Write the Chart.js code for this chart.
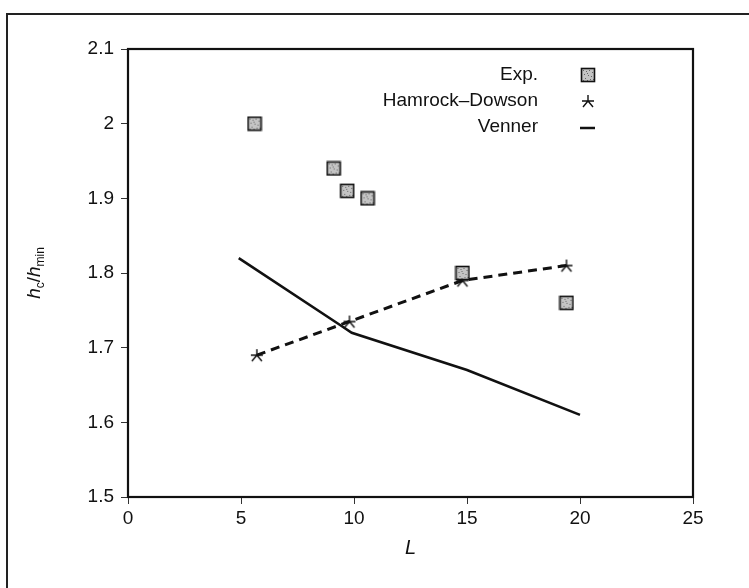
<!DOCTYPE html>
<html>
<head>
<meta charset="utf-8">
<script src="https://cdn.jsdelivr.net/npm/chart.js@4.4.0/dist/chart.umd.min.js"></script>
<style>
  html, body { margin: 0; padding: 0; background: #fff; }
  #wrap { width: 749px; height: 588px; position: relative; }
</style>
</head>
<body>
<div id="wrap"><canvas id="myChart"></canvas></div>
<script>
'use strict';

// data
var expL = [5.6, 9.1, 9.7, 10.6, 14.8, 19.4];
var expH = [2.0, 1.94, 1.91, 1.90, 1.80, 1.76];

var hdL = [5.7, 9.8, 14.8, 19.4];
var hdH = [1.69, 1.735, 1.79, 1.81];

var vennerL = [4.9, 9.4, 9.9, 15, 20];
var vennerH = [1.82, 1.73, 1.72, 1.67, 1.61];

var seriesNames = ['Exp.', 'Hamrock\u2013Dowson', 'Venner'];
var xTicks = [0, 5, 10, 15, 20, 25];
var yTicks = [1.5, 1.6, 1.7, 1.8, 1.9, 2.0, 2.1];

var fontFam = '"Liberation Sans", Arial, Helvetica, sans-serif';

function toPoints(xs, ys) {
    var pts = [];
    for (var i = 0; i < xs.length; i++) {
        pts.push({ x: xs[i], y: ys[i] });
    }
    return pts;
}

// the little square with a speckled grey fill
function makeSquare() {
    var c = document.createElement('canvas');
    c.width = 16; c.height = 16;
    var g = c.getContext('2d');
    g.fillStyle = '#c4c4c4';
    g.fillRect(1, 1, 14, 14);
    g.fillStyle = '#666';
    var dots = [[3,3],[6,4],[9,3],[12,5],[4,7],[8,8],[11,9],[5,11],[10,12],[7,13],[13,12],[3,13],[7,6]];
    for (var i = 0; i < dots.length; i++) g.fillRect(dots[i][0], dots[i][1], 1, 1);
    g.strokeStyle = '#111';
    g.lineWidth = 1.6;
    g.strokeRect(1.5, 1.5, 13, 13);
    return c;
}

// three armed star with a bar, like the one in the plot
function makeStar() {
    var c = document.createElement('canvas');
    c.width = 16; c.height = 16;
    var g = c.getContext('2d');
    g.strokeStyle = '#111';
    g.lineWidth = 1.4;
    g.beginPath();
    g.moveTo(8, 2); g.lineTo(8, 8);
    g.moveTo(8, 8); g.lineTo(3, 14);
    g.moveTo(8, 8); g.lineTo(13, 14);
    g.moveTo(2, 8); g.lineTo(14, 8);
    g.stroke();
    return c;
}

var squareImg = makeSquare();
var starImg = makeStar();

// frame, box around the plot, legend and y title
var extras = {
    id: 'extras',
    afterDraw: function (chart) {
        var ctx = chart.ctx;
        var a = chart.chartArea;
        ctx.save();
        // outer frame (only left and top are in view)
        ctx.strokeStyle = '#222';
        ctx.lineWidth = 2;
        ctx.beginPath();
        ctx.moveTo(7, 588);
        ctx.lineTo(7, 14);
        ctx.lineTo(749, 14);
        ctx.stroke();
        // box round the plot
        ctx.lineWidth = 2.2;
        ctx.strokeStyle = '#111';
        ctx.strokeRect(a.left, a.top, a.right - a.left, a.bottom - a.top);

        // legend
        ctx.fillStyle = '#111';
        ctx.font = '19px ' + fontFam;
        ctx.textAlign = 'right';
        ctx.textBaseline = 'middle';
        var lx = 538, ys = [75, 101, 127];
        for (var i = 0; i < seriesNames.length; i++) {
            ctx.fillText(seriesNames[i], lx, ys[i]);
        }
        ctx.drawImage(squareImg, 580, ys[0] - 8);
        ctx.drawImage(starImg, 580, ys[1] - 8);
        ctx.lineWidth = 2.5;
        ctx.beginPath();
        ctx.moveTo(580, ys[2] + 1);
        ctx.lineTo(595, ys[2] + 1);
        ctx.stroke();

        // y title h_c / h_min
        ctx.translate(34, (a.top + a.bottom) / 2);
        ctx.rotate(-Math.PI / 2);
        ctx.textAlign = 'left';
        ctx.textBaseline = 'alphabetic';
        var parts = [
            ['italic 19px ', 'h', 0],
            ['12px ', 'c', 4],
            ['19px ', '/', 0],
            ['italic 19px ', 'h', 0],
            ['12px ', 'min', 4]
        ];
        var w = 0;
        for (var j = 0; j < parts.length; j++) {
            ctx.font = parts[j][0] + fontFam;
            w += ctx.measureText(parts[j][1]).width;
        }
        var px = -w / 2;
        for (var k = 0; k < parts.length; k++) {
            ctx.font = parts[k][0] + fontFam;
            ctx.fillText(parts[k][1], px, 6 + parts[k][2]);
            px += ctx.measureText(parts[k][1]).width;
        }
        ctx.restore();
    }
};

var ctx = document.getElementById('myChart').getContext('2d');
var chart = new Chart(ctx, {
    type: 'scatter',
    data: {
        datasets: [
            {
                label: seriesNames[0],
                data: toPoints(expL, expH),
                pointStyle: squareImg,
                showLine: false
            },
            {
                label: seriesNames[1],
                data: toPoints(hdL, hdH),
                pointStyle: starImg,
                showLine: true,
                borderColor: '#111',
                borderWidth: 3,
                borderDash: [9, 6],
                fill: false
            },
            {
                label: seriesNames[2],
                data: toPoints(vennerL, vennerH),
                pointRadius: 0,
                showLine: true,
                borderColor: '#111',
                borderWidth: 2.6,
                fill: false
            }
        ]
    },
    options: {
        responsive: true,
        maintainAspectRatio: false,
        animation: false,
        layout: { padding: { top: 49, right: 56, left: 0, bottom: 28 } },
        plugins: {
            legend: { display: false },
            tooltip: { enabled: false }
        },
        scales: {
            x: {
                type: 'linear',
                min: 0,
                max: 25,
                afterBuildTicks: function (s) {
                    s.ticks = xTicks.map(function (v) { return { value: v }; });
                },
                afterFit: function (s) { s.height = 63; },
                grid: { drawOnChartArea: false, drawTicks: true, tickLength: 7, color: '#333', lineWidth: 1 },
                border: { color: '#111', width: 2 },
                ticks: { color: '#111', font: { family: fontFam, size: 19 }, padding: 3, maxRotation: 0 },
                title: { display: true, text: 'L', color: '#111', font: { family: fontFam, size: 20, style: 'italic' }, padding: { top: 0, bottom: 0 } }
            },
            y: {
                type: 'linear',
                min: 1.5,
                max: 2.1,
                afterBuildTicks: function (s) {
                    s.ticks = yTicks.map(function (v) { return { value: v }; });
                },
                afterFit: function (s) { s.width = 128; },
                grid: { drawOnChartArea: false, drawTicks: true, tickLength: 7, color: '#333', lineWidth: 1 },
                border: { color: '#111', width: 2 },
                ticks: {
                    color: '#111',
                    font: { family: fontFam, size: 19 },
                    padding: 7,
                    callback: function (v) { return String(Number(v.toFixed(1))); }
                }
            }
        }
    },
    plugins: [extras]
});
</script>
</body>
</html>
